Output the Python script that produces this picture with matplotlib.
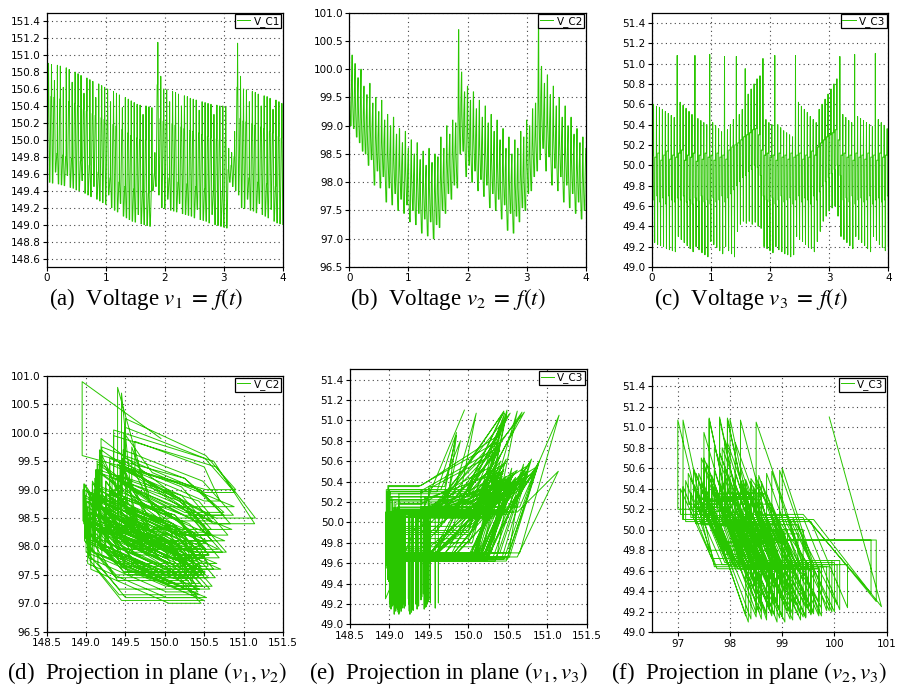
import matplotlib
matplotlib.use("Agg")
import matplotlib.pyplot as plt
from matplotlib.ticker import MultipleLocator, FormatStrFormatter

# ----------------------------------------------------------------------
# Capacitor voltages, one entry per switching cycle
# ----------------------------------------------------------------------
period = 0.05
n_cycles = 80

v1_start, v2_start, v3_start = 149.95, 99.90, 51.10

# V_C1: value at cycle start, peak, and the plateau it rests on
v1_low = [148.95, 149.50, 149.49, 149.62, 149.48, 149.47, 149.46, 149.58, 149.44, 149.43,
          149.41, 149.40, 149.52, 149.37, 149.35, 149.33, 149.45, 149.30, 149.28, 149.26,
          149.24, 149.35, 149.20, 149.17, 149.15, 149.25, 149.10, 149.08, 149.06, 149.04,
          149.03, 149.12, 149.01, 149.00, 148.99, 148.98, 149.40, 149.45, 149.35, 149.20,
          149.19, 149.30, 149.17, 149.16, 149.15, 149.25, 149.13, 149.12, 149.11, 149.10,
          149.08, 149.18, 149.06, 149.05, 149.04, 149.02, 149.12, 149.00, 148.99, 148.98,
          148.97, 148.96, 149.50, 149.45, 149.40, 149.35, 149.20, 149.19, 149.30, 149.17,
          149.16, 149.14, 149.25, 149.12, 149.10, 149.08, 149.18, 149.04, 149.02, 149.01,
          149.00]
v1_high = [150.90, 150.89, 150.70, 150.88, 150.87, 150.62, 150.85, 150.83, 150.68, 150.80,
           150.78, 150.76, 150.55, 150.73, 150.71, 150.69, 150.50, 150.66, 150.64, 150.62,
           150.60, 150.45, 150.57, 150.55, 150.53, 150.38, 150.50, 150.48, 150.46, 150.44,
           150.42, 150.41, 150.30, 150.40, 150.39, 150.38, 149.85, 151.15, 150.75, 150.60,
           150.59, 150.45, 150.57, 150.56, 150.54, 150.40, 150.52, 150.51, 150.49, 150.48,
           150.47, 150.35, 150.45, 150.44, 150.43, 150.42, 150.30, 150.41, 150.40, 150.40,
           150.39, 149.90, 149.85, 150.10, 151.14, 150.75, 150.60, 150.59, 150.45, 150.57,
           150.56, 150.54, 150.40, 150.52, 150.51, 150.49, 150.36, 150.47, 150.45, 150.43]
v1_plat = [150.52, 150.51, 150.50, 149.84, 150.48, 149.82, 149.80, 150.45, 149.78, 150.43,
           150.40, 149.75, 150.36, 150.34, 149.70, 150.31, 150.29, 149.62, 150.26, 150.24,
           150.22, 149.55, 150.18, 150.16, 149.50, 150.12, 149.45, 150.08, 150.05, 149.42,
           150.02, 150.00, 149.38, 150.00, 149.37, 149.40, 149.60, 150.65, 150.25, 150.22,
           150.21, 149.55, 150.19, 150.17, 149.50, 150.15, 150.13, 149.48, 150.11, 150.10,
           149.45, 150.08, 150.06, 149.42, 150.04, 150.02, 149.40, 150.01, 150.00, 149.38,
           150.00, 149.65, 149.70, 149.80, 150.62, 150.25, 150.22, 150.21, 149.55, 150.19,
           150.17, 149.50, 150.15, 150.13, 149.48, 150.10, 150.08, 149.45, 150.04, 150.02]

# V_C2: value at cycle start, trough, and the intermediate level
v2_high = [100.90, 100.25, 100.10, 99.85, 100.00, 99.70, 99.55, 99.75, 99.40, 99.50,
           99.25, 99.45, 99.10, 99.20, 99.00, 99.15, 98.85, 98.95, 98.70, 98.90,
           98.60, 98.75, 98.50, 98.70, 98.40, 98.55, 98.30, 98.60, 98.35, 98.50,
           98.45, 98.80, 98.60, 99.00, 98.85, 99.10, 99.05, 100.70, 99.95, 99.60,
           99.70, 99.45, 99.60, 99.30, 99.45, 99.15, 99.35, 99.05, 99.20, 98.90,
           99.10, 98.75, 98.95, 98.60, 98.80, 98.50, 98.75, 98.60, 98.90, 98.80,
           99.10, 99.00, 99.30, 99.40, 100.80, 100.05, 99.75, 99.90, 99.55, 99.70,
           99.35, 99.50, 99.15, 99.35, 99.00, 99.15, 98.85, 98.95, 98.70, 98.80,
           98.60]
v2_low = [99.00, 98.95, 98.80, 98.70, 98.55, 98.50, 98.30, 98.40, 97.95, 98.20,
          97.90, 98.10, 97.65, 97.90, 97.60, 97.80, 97.50, 97.70, 97.45, 97.60,
          97.30, 97.50, 97.25, 97.45, 97.10, 97.35, 97.05, 97.30, 97.00, 97.25,
          97.20, 97.50, 97.45, 97.80, 97.70, 97.95, 97.90, 98.50, 98.55, 98.10,
          98.30, 98.00, 98.20, 97.85, 98.05, 97.75, 97.95, 97.55, 97.80, 97.50,
          97.70, 97.35, 97.60, 97.15, 97.45, 97.10, 97.40, 97.30, 97.55, 97.50,
          97.80, 97.85, 98.10, 98.20, 98.40, 98.60, 98.20, 98.45, 97.95, 98.25,
          97.85, 98.10, 97.65, 97.95, 97.55, 97.80, 97.45, 97.65, 97.35, 97.50]
v2_mid = [99.60, 99.55, 99.40, 99.30, 99.15, 99.10, 98.90, 99.00, 98.55, 98.80,
          98.50, 98.70, 98.25, 98.50, 98.20, 98.40, 98.10, 98.30, 98.05, 98.20,
          97.90, 98.10, 97.85, 98.05, 97.70, 97.95, 97.65, 97.90, 97.60, 97.85,
          97.80, 98.10, 98.05, 98.40, 98.30, 98.55, 98.50, 99.40, 99.20, 98.70,
          98.90, 98.60, 98.80, 98.45, 98.65, 98.35, 98.55, 98.15, 98.40, 98.10,
          98.30, 97.95, 98.20, 97.75, 98.05, 97.70, 98.00, 97.90, 98.15, 98.10,
          98.40, 98.45, 98.70, 98.80, 99.50, 99.20, 98.80, 99.05, 98.55, 98.85,
          98.45, 98.70, 98.25, 98.55, 98.15, 98.40, 98.05, 98.25, 97.95, 98.10]

# V_C3: trough, level while V_C1 charges, peak (incl. 51.1 overshoots),
# and level while V_C1 discharges
v3_low = [49.25, 49.24, 49.22, 49.21, 49.20, 49.18, 49.17, 49.16, 49.15, 49.30,
          49.27, 49.24, 49.21, 49.18, 49.15, 49.20, 49.17, 49.14, 49.12, 49.10,
          49.25, 49.22, 49.19, 49.16, 49.13, 49.20, 49.16, 49.13, 49.10, 49.35,
          49.42, 49.45, 49.43, 49.45, 49.42, 49.44, 49.40, 49.38, 49.20, 49.18,
          49.16, 49.14, 49.20, 49.17, 49.15, 49.13, 49.12, 49.10, 49.12, 49.30,
          49.27, 49.25, 49.22, 49.20, 49.18, 49.15, 49.25, 49.35, 49.45, 49.50,
          49.55, 49.58, 49.60, 49.50, 49.30, 49.27, 49.24, 49.21, 49.18, 49.30,
          49.27, 49.24, 49.21, 49.18, 49.15, 49.30, 49.26, 49.22, 49.19, 49.16,
          49.20]
v3_up = [50.10, 50.08, 50.12, 50.05, 50.10, 50.14, 50.06, 50.10, 50.08, 50.12,
         50.15, 50.05, 50.10, 50.08, 50.12, 50.04, 50.10, 50.06, 50.12, 50.08,
         50.10, 50.05, 50.12, 50.08, 50.10, 50.06, 50.15, 50.18, 50.20, 50.22,
         50.25, 50.28, 50.30, 50.32, 50.35, 50.36, 50.30, 50.15, 50.10, 50.12,
         50.08, 50.10, 50.05, 50.12, 50.08, 50.10, 50.06, 50.12, 50.08, 50.10,
         50.12, 50.06, 50.10, 50.08, 50.14, 50.10, 50.18, 50.22, 50.25, 50.28,
         50.30, 50.32, 50.35, 50.25, 50.10, 50.12, 50.08, 50.10, 50.05, 50.12,
         50.08, 50.10, 50.06, 50.12, 50.08, 50.10, 50.05, 50.12, 50.08, 50.10]
v3_high = [50.60, 50.58, 50.57, 50.55, 50.53, 50.51, 50.49, 50.47, 51.08, 50.62,
           50.59, 50.56, 50.53, 50.50, 51.08, 50.46, 50.44, 50.42, 50.40, 51.09,
           50.42, 50.39, 50.36, 50.33, 51.07, 50.35, 50.40, 50.45, 51.07, 50.50,
           50.55, 50.95, 50.70, 50.75, 50.80, 50.85, 50.88, 51.05, 50.45, 50.42,
           50.40, 51.08, 50.40, 50.37, 50.34, 50.32, 50.30, 50.28, 51.08, 50.62,
           50.58, 50.55, 50.52, 50.48, 50.45, 50.42, 50.55, 50.60, 50.65, 50.70,
           50.75, 50.80, 50.85, 51.07, 50.50, 50.47, 50.44, 50.42, 51.09, 50.48,
           50.46, 50.44, 50.42, 50.40, 50.38, 51.10, 50.45, 50.42, 50.39, 50.36]
v3_back = [49.66, 49.70, 49.64, 49.68, 49.62, 49.70, 49.66, 49.64, 49.68, 49.66,
           49.70, 49.64, 49.66, 49.62, 49.68, 49.65, 49.70, 49.64, 49.66, 49.62,
           49.68, 49.64, 49.66, 49.70, 49.64, 49.68, 49.72, 49.76, 49.80, 49.84,
           49.88, 49.90, 49.94, 49.96, 50.00, 49.98, 49.90, 49.70, 49.66, 49.64,
           49.68, 49.62, 49.66, 49.70, 49.64, 49.66, 49.68, 49.62, 49.66, 49.70,
           49.64, 49.68, 49.66, 49.62, 49.70, 49.66, 49.74, 49.80, 49.84, 49.88,
           49.92, 49.96, 50.00, 49.90, 49.66, 49.68, 49.64, 49.70, 49.62, 49.66,
           49.68, 49.64, 49.66, 49.70, 49.62, 49.66, 49.68, 49.64, 49.66, 49.70]

GREEN = "#29c600"


def build_path():
    """Stitch the per-cycle values into one (t, v1, v2, v3) polyline."""
    t, a, b, c = [0.0], [v1_start], [v2_start], [v3_start]
    for k in range(n_cycles):
        t0 = k * period
        nxt = k + 1
        pts = [
            (0.00, v1_low[k], v2_high[k], v3_low[k]),
            (0.08, v1_low[k], v2_mid[k], v3_up[k]),
            (0.40, v1_plat[k], v2_low[k], v3_up[k]),
            (0.55, v1_plat[k], v2_low[k], v3_up[k]),
            (0.62, v1_high[k], v2_low[k], v3_high[k]),
            (0.70, v1_plat[k], v2_mid[k], v3_back[k]),
            (0.92, v1_low[nxt], v2_high[nxt], v3_back[k]),
        ]
        for f, x1, x2, x3 in pts:
            t.append(t0 + f * period)
            a.append(x1)
            b.append(x2)
            c.append(x3)
    t.append(n_cycles * period)
    a.append(v1_low[n_cycles])
    b.append(v2_high[n_cycles])
    c.append(v3_low[n_cycles])
    return t, a, b, c


def style_axes(ax, xlim, ylim, xstep, ystep, xfmt, yfmt):
    ax.set_xlim(*xlim)
    ax.set_ylim(*ylim)
    ax.xaxis.set_major_locator(MultipleLocator(xstep))
    ax.yaxis.set_major_locator(MultipleLocator(ystep))
    ax.xaxis.set_major_formatter(FormatStrFormatter(xfmt))
    ax.yaxis.set_major_formatter(FormatStrFormatter(yfmt))
    ax.tick_params(labelsize=7.5, length=3, width=0.8, pad=1.5)
    ax.grid(True, linestyle=(0, (1, 3)), color="#444444", linewidth=0.8)
    for sp in ax.spines.values():
        sp.set_linewidth(0.9)
    leg = ax.legend(loc="upper right", fontsize=7.5, frameon=True, fancybox=False,
                    borderpad=0.15, borderaxespad=0.15, handlelength=1.3,
                    handletextpad=0.3, framealpha=1.0)
    leg.get_frame().set_edgecolor("black")
    leg.get_frame().set_linewidth(0.9)


t, v1, v2, v3 = build_path()

plt.rcParams["mathtext.fontset"] = "stix"
fig = plt.figure(figsize=(8.98, 6.94), dpi=100)

W, H = 898.0, 694.0


def box(l, r, top, bot):
    return [l / W, 1 - bot / H, (r - l) / W, (bot - top) / H]


ax_a = fig.add_axes(box(46.7, 283, 12.7, 267))
ax_b = fig.add_axes(box(349.3, 586, 12.7, 267))
ax_c = fig.add_axes(box(651.7, 888.3, 12.7, 267))
ax_d = fig.add_axes(box(46.7, 283, 376, 631.7))
ax_e = fig.add_axes(box(350, 586.7, 369.3, 624.3))
ax_f = fig.add_axes(box(651.7, 886.7, 376, 632.3))

lw = 0.7
ax_a.plot(t, v1, color=GREEN, lw=lw, label="V_C1")
ax_b.plot(t, v2, color=GREEN, lw=lw, label="V_C2")
ax_c.plot(t, v3, color=GREEN, lw=lw, label="V_C3")
ax_d.plot(v1, v2, color=GREEN, lw=lw, label="V_C2")
ax_e.plot(v1, v3, color=GREEN, lw=lw, label="V_C3")
ax_f.plot(v2, v3, color=GREEN, lw=lw, label="V_C3")

style_axes(ax_a, (0, 4), (148.5, 151.5), 1, 0.2, "%d", "%.1f")
style_axes(ax_b, (0, 4), (96.5, 101.0), 1, 0.5, "%d", "%.1f")
style_axes(ax_c, (0, 4), (49.0, 51.5), 1, 0.2, "%d", "%.1f")
style_axes(ax_d, (148.5, 151.5), (96.5, 101.0), 0.5, 0.5, "%.1f", "%.1f")
style_axes(ax_e, (148.5, 151.5), (49.0, 51.5), 0.5, 0.2, "%.1f", "%.1f")
style_axes(ax_f, (96.5, 101.0), (49.0, 51.5), 1, 0.2, "%d", "%.1f")

captions = [
    (146, 299, r"(a)  Voltage $v_1 \;=\; f(t)$"),
    (448, 299, r"(b)  Voltage $v_2 \;=\; f(t)$"),
    (751, 299, r"(c)  Voltage $v_3 \;=\; f(t)$"),
    (147, 673, r"(d)  Projection in plane $(v_1, v_2)$"),
    (448, 673, r"(e)  Projection in plane $(v_1, v_3)$"),
    (749, 673, r"(f)  Projection in plane $(v_2, v_3)$"),
]
for x, y, s in captions:
    fig.text(x / W, 1 - y / H, s, ha="center", va="center",
             fontsize=16.5, family="Liberation Serif")

fig.savefig("out.png", dpi=100)
